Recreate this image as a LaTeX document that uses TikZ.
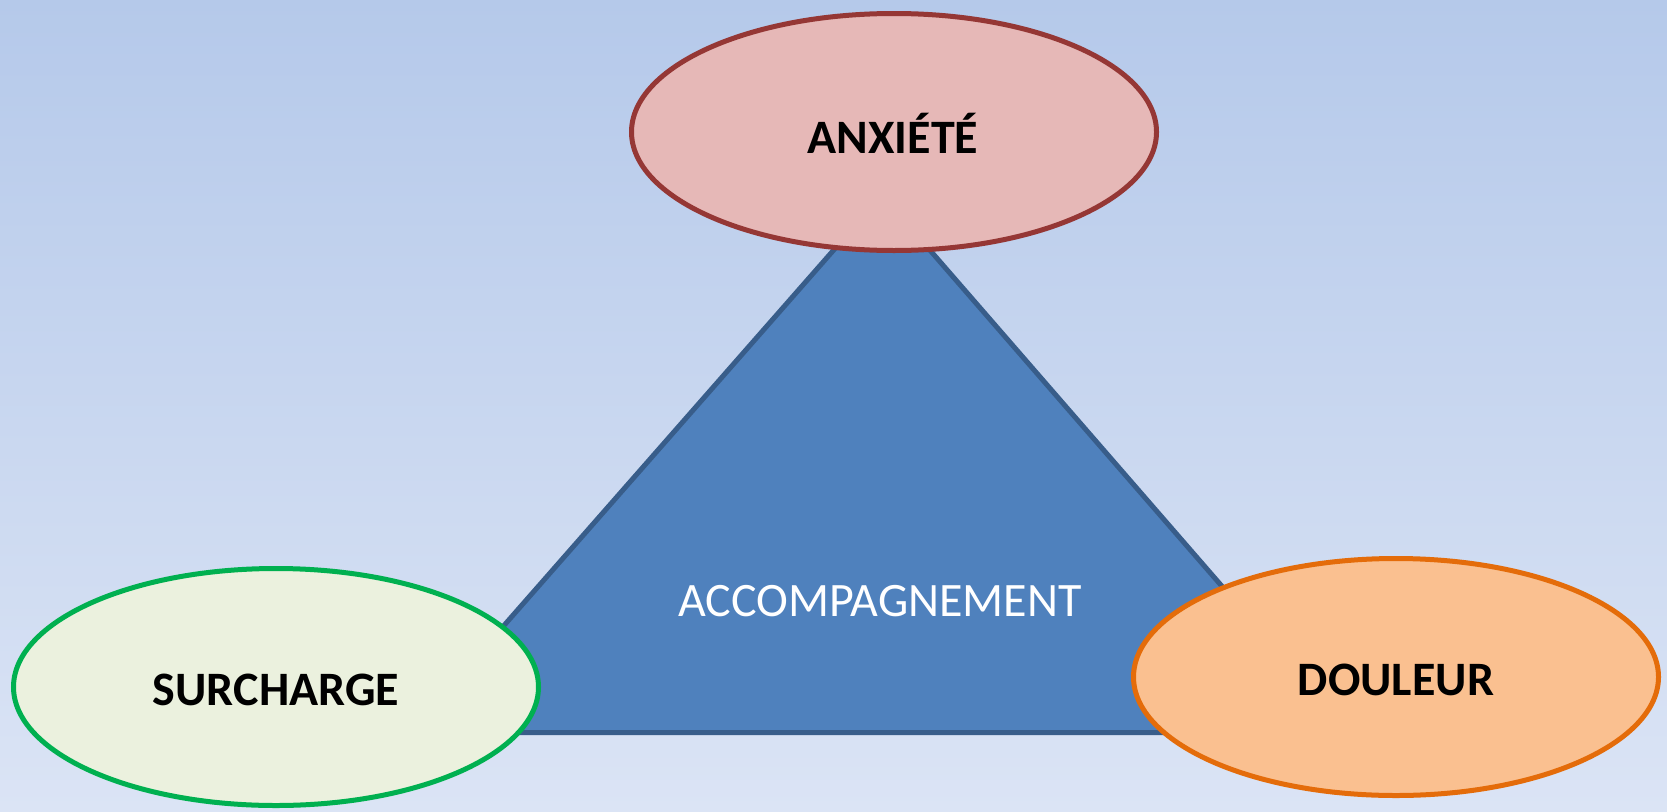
\documentclass[tikz,border=0pt]{standalone}
\usepackage{fontspec}
\setmainfont{Carlito}
\usetikzlibrary{shapes.geometric}
\definecolor{bgtop}{RGB}{181,201,234}
\definecolor{bgbot}{RGB}{219,228,245}
\definecolor{trifill}{RGB}{79,129,189}
\definecolor{triline}{RGB}{56,93,138}
\definecolor{anxfill}{RGB}{230,184,183}
\definecolor{anxline}{RGB}{149,55,53}
\definecolor{surfill}{RGB}{235,241,222}
\definecolor{surline}{RGB}{0,176,80}
\definecolor{doufill}{RGB}{250,192,144}
\definecolor{douline}{RGB}{228,108,10}
\tikzset{
  blob/.style={ellipse, minimum width=525pt, minimum height=237pt, inner sep=0pt, line width=5pt},
  lab/.style={font=\fontsize{48}{56}\selectfont\bfseries, text=black},
}
\begin{document}
\begin{tikzpicture}[x=1pt,y=-1pt]
\useasboundingbox (0,0) rectangle (1667,811);
\shade[top color=bgtop, bottom color=bgbot] (0,0) rectangle (1667,811);
\coordinate (apex) at (882,195);
\coordinate (bl) at (410,732.5);
\coordinate (br) at (1349,732.5);
\draw[fill=trifill, draw=triline, line width=5pt, line join=miter] (apex) -- (bl) -- (br) -- cycle;
\node[font=\fontsize{48}{56}\selectfont, text=white] (acc) at (880,601) {ACCOMPAGNEMENT};
\node[blob, fill=anxfill, draw=anxline] (anx) at (894,132) {};
\node[blob, fill=surfill, draw=surline] (sur) at (276,687) {};
\node[blob, fill=doufill, draw=douline] (dou) at (1396,677) {};
\node[lab] at (893,133) {ANXIÉTÉ};
\node[lab] at (276,690) {SURCHARGE};
\node[lab] at (1396,680) {DOULEUR};
\end{tikzpicture}
\end{document}
